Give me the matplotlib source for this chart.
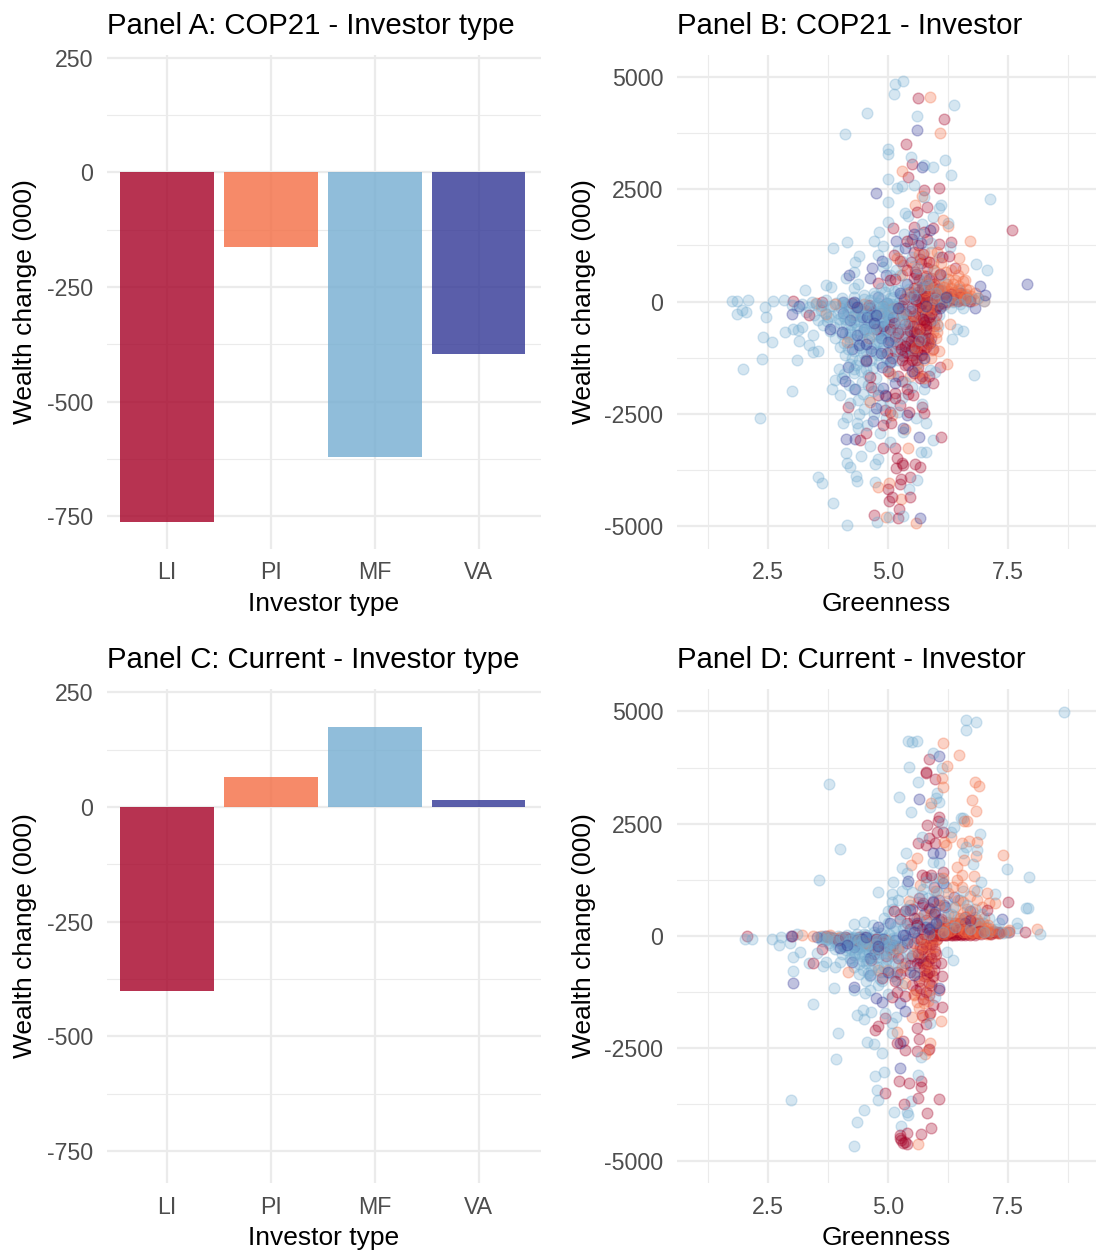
# -*- coding: utf-8 -*-
import matplotlib
matplotlib.use('Agg')
import matplotlib.pyplot as plt

plt.rcParams['font.family'] = ['Liberation Sans', 'DejaVu Sans']
plt.rcParams['axes.unicode_minus'] = False

types = ['LI', 'PI', 'MF', 'VA']
colores = ['#A50026', '#F46D43', '#74ADD1', '#313695']
cop21_bars = [-763, -162, -620, -396]
current_bars = [-401, 65, 175, 14]

# =============================================================================
#               PANEL B, puntos
# =============================================================================
b_mf = [(5.31,4910),(5.14,4840),(5.13,4630),(4.57,4205),(4.10,3735),(5.60,4130),(6.38,4375),(5.0,3390),(4.99,3290),
(5.47,3230),(5.74,3040),(5.93,2990),(6.19,3150),(6.32,2815),(4.99,2720),(5.18,2535),(5.28,2585),(5.53,2600),(5.0,2215),
(5.74,2320),(7.12,2280),(6.10,2155),(6.06,2095),(5.35,1975),(5.42,1910),(5.94,1875),(5.0,1770),(6.24,1740),(5.70,1725),
(4.82,1560),(5.34,1510),(4.71,1340),(4.14,1320),(3.86,1190),(4.89,1235),(6.29,1220),(4.78,1030),(4.40,1020),(4.31,880),
(4.90,775),(4.28,670),(4.13,530),(6.83,830),(7.07,700),(5.17,700),(3.71,370),(3.82,330),(3.26,255),(4.38,390),(4.28,295),
(1.75,10),(1.86,10),(2.08,25),(2.60,10),(2.83,35),(3.41,0),(2.44,-115),(1.95,-190),(2.04,-225),(1.85,-280),(2.46,-335),
(2.86,-670),(2.40,-780),(2.58,-890),(3.03,-600),(3.13,-635),(3.20,-560),(2.37,-1270),(1.97,-1490),(3.11,-1300),(3.15,-875),
(3.43,-745),(3.36,-970),(3.44,-1115),(3.55,-1095),(2.99,-1990),(2.33,-2595),(6.79,-1635),(6.33,-840),(6.57,-665),(6.43,-600),
(3.83,-1940),(4.0,-2070),(3.90,-1750),(4.04,-1710),(4.14,-2560),(4.07,-2710),(4.35,-2710),(4.38,-2820),(4.56,-2750),(4.83,-2935),
(4.63,-3215),(4.13,-3365),(4.43,-3430),(4.15,-3590),(4.21,-3675),(4.73,-3620),(4.78,-3510),(3.55,-3905),(3.62,-4050),(4.33,-3885),
(4.36,-4000),(4.73,-4010),(3.85,-4490),(4.15,-4970),(4.76,-4910),(5.01,-4790),(5.32,-4775),(5.58,-2600),(5.79,-2700),(5.70,-2270),
(5.94,-3085),(5.68,-3360),(5.78,-3340),(5.60,-3975),(5.44,-4180),(5.04,-3120),(5.32,-2895),(5.74,-1955),(5.98,-1560),(5.88,-1525),
(3.0,-80),(3.1,-150),(3.2,-60),(3.3,-230),(3.35,-120),(3.45,-300),(3.5,-50),(3.55,-420),(3.6,-180),(3.65,-520),(3.7,30),(3.75,-350),
(3.8,-650),(3.85,-100),(3.9,-800),(3.95,-250),(4.0,-1000),(4.0,-480),(4.05,80),(4.1,-1200),(4.1,-700),(4.15,-150),(4.2,-1400),
(4.2,-900),(4.25,-350),(4.3,-1600),(4.3,-1100),(4.3,100),(4.35,-600),(4.4,-1300),(4.4,-200),(4.45,-1800),(4.45,-850),(4.5,-450),
(4.5,150),(4.55,-1100),(4.55,-1500),(4.6,-700),(4.6,-100),(4.65,-1300),(4.65,-350),(4.7,-950),(4.7,200),(4.75,-550),(4.75,-1700),
(4.8,-150),(4.8,-1200),(4.85,-750),(4.85,300),(4.9,-400),(4.9,-1000),(4.95,-50),(4.95,-1450),(5.0,-650),(5.0,350),(5.05,-250),
(5.05,-1100),(5.1,-800),(5.1,100),(5.15,-450),(5.2,-1300),(5.2,250),(5.25,-100),(5.3,-600),(5.35,400),(5.4,-300),(5.45,-1000),
(5.5,150),(5.55,-500),(5.6,-1400),(5.65,300),(5.7,-200),(5.75,-750),(5.8,500),(5.85,50),(5.9,-400),(6.0,200),(6.05,-300),(6.1,600),
(6.2,50),(6.3,-150),(6.4,100),(6.5,-50),(6.6,150),(6.7,-20),(6.85,80),(7.0,20),
(4.12,-60),(4.22,-520),(4.32,-240),(4.42,-720),(4.52,-90),(4.62,-480),(4.72,-260),(4.82,-880),(4.92,-170),(5.02,-420),
(4.18,-780),(4.28,-450),(4.38,-950),(4.48,-1150),(4.58,-280),(4.68,-620),(4.78,-40),(4.88,-560),(4.98,-300),(5.08,-60),
(3.98,-1500),(4.08,-1620),(4.18,-1850),(4.28,-1950),(4.38,-2200),(4.48,-2050),(4.58,-1850),(4.68,-2000),(4.2,-2250),(4.5,-2400),
(3.62,-70),(3.68,-260),(3.72,-430),(3.78,-90),(3.82,-310),(3.88,-560),(3.92,-30),(3.97,-380),(4.02,-140),(4.03,-720),(4.07,-310),
(4.08,-930),(4.13,-490),(4.16,-1050),(4.17,-230),(4.21,-650),(4.24,-1260),(4.26,-60),(4.29,-840),(4.31,-330),(4.33,-1420),(4.36,-520),
(4.37,-90),(4.41,-1030),(4.43,-300),(4.44,-1550),(4.47,-670),(4.49,60),(4.51,-1300),(4.53,-380),(4.56,-860),(4.57,-170),(4.59,-1640),
(4.61,-560),(4.63,40),(4.64,-1040),(4.66,-240),(4.67,-770),(4.69,-1470),(4.71,-410),(4.73,130),(4.74,-1120),(4.76,-310),(4.77,-890),
(4.79,-540),(4.81,-1360),(4.83,-200),(4.84,-650),(4.86,60),(4.87,-1100),(4.89,-350),(4.91,-820),(4.93,210),(4.94,-500),(4.96,-1250),
(4.97,-130),(4.99,-900),(5.01,-370),(5.03,80),(5.04,-730),(5.06,-1350),(5.07,-210),(5.09,-550),(5.11,-1000),(5.12,230),(5.14,-320),
(5.16,-850),(5.18,-90),(5.19,-610),(5.22,-1150),(5.24,-400),(5.26,140),(5.28,-760),(5.31,-260),(5.33,-1050),(5.36,40),(5.38,-520),
(5.41,-830),(5.44,280),(5.47,-180),(5.5,-650),(5.52,-1150),(5.57,90),(5.6,-340),(5.63,520),(5.67,-860),(5.72,160),(5.78,-300),(5.83,380),
(5.88,-120),(5.93,700),(5.98,60),(6.03,-550),(6.08,280),(6.14,-80),(6.18,420),(6.25,130),(6.35,-20),(6.45,280),(6.55,-150),(6.65,60),
(5.3,900),(5.5,1000),(5.6,750),(5.75,1100),(5.2,1150),(5.9,1300),(6.05,1000),(5.05,600),(4.95,850),(5.25,600),(5.45,1300),(5.65,1500),
(4.6,-2200),(4.7,-2500),(4.85,-2300),(4.95,-2600),(5.05,-2250),(5.2,-2450),(5.3,-2150),(5.5,-1900),(4.8,-1950),(5.1,-1650),(5.35,-1800),
(4.4,-2500),(4.3,-1500),
(4.06,-40),(4.11,-380),(4.19,-130),(4.23,-720),(4.34,-30),(4.39,-430),(4.46,-220),(4.54,-640),(4.64,-130),(4.69,-330),(4.74,-70),(4.79,-720),
(4.84,-120),(4.88,-440),(4.92,-640),(4.97,-30),(5.02,-220),(5.06,-560),(5.13,-140),(5.17,-660),(5.21,-30),(5.27,-280),(5.32,-430),(5.42,-60)]

b_va = [(5.60,3830),(5.71,3000),(4.74,2410),(5.17,1340),(5.35,1185),(5.53,1495),(4.88,895),(4.66,740),(4.19,590),(4.62,515),
(6.92,350),(7.89,390),(7.02,145),(5.68,1295),(5.88,1590),(6.81,-150),(3.15,-100),(2.99,-265),(4.07,0),(3.78,-600),(4.03,-670),
(4.07,-260),(4.4,-970),(4.54,-1320),(4.16,-1465),(4.87,-1450),(4.1,-1760),(4.31,-1950),(4.9,-1930),(4.94,-2080),(5.77,-1785),
(5.15,-1820),(4.75,-2380),(4.69,-2650),(5.32,-2820),(4.13,-3050),(4.31,-3065),(5.65,-3015),(5.67,-4820),(5.39,-2525),(5.88,-930),
(5.74,-1265),(5.35,-1115),(4.56,-340),(4.28,0),(4.97,-40),(5.53,-670),(6.08,-150),(4.5,-600),(4.62,-150),(4.7,-480),(4.85,-800),
(5.1,-350),(5.25,200),(5.45,-200),(5.7,300),(6.2,100),(6.5,200),(4.2,-400),(4.35,-120),(4.8,100),
(4.35,-750),(4.55,-950),(4.45,-350),(4.65,-1100),(4.75,-300),(4.9,-550),(5.0,-900),(5.2,-150),(5.4,400),(5.55,150),(5.8,-100),(6.0,80),
(6.35,50),(4.85,-1150),(4.25,-1050),(5.05,-1350),(5.5,-1550),(4.95,600)]

b_li = [(5.63,4540),(6.17,4060),(5.38,3520),(5.49,3075),(5.42,2765),(6.07,2525),(5.74,2475),(5.82,2110),(5.6,2000),(5.11,1635),
(5.53,1665),(5.94,1650),(7.59,1600),(5.82,1405),(5.39,1355),(6.07,1275),(6.31,1320),(5.13,1035),(5.53,1110),(6.12,985),(6.26,1020),
(5.67,945),(6.4,740),(5.39,700),(5.56,665),(5.81,740),(5.04,480),(4.78,405),(5.53,515),(6.08,625),(5.94,330),(5.74,255),(6.5,105),
(3.01,20),(3.62,0),(3.35,-300),(4.97,-300),(5.15,-780),(5.74,-450),(5.53,-970),(4.97,-1155),(4.54,-1300),(5.35,-1415),(5.67,-1710),
(5.94,-1820),(5.3,-1760),(4.63,-1690),(4.64,-1895),(4.78,-2080),(5.15,-2045),(5.15,-2155),(5.42,-2060),(5.51,-2080),(4.17,-2340),
(4.94,-2415),(5.44,-2450),(5.71,-2340),(5.74,-2475),(4.89,-2750),(5.06,-2695),(4.53,-2935),(4.42,-3080),(6.1,-3010),(4.89,-3255),
(5.15,-3270),(5.18,-3475),(5.28,-3600),(5.32,-3640),(5.17,-3715),(5.56,-3620),(5.67,-3690),(5.27,-3960),(5.46,-3915),(5.25,-4060),
(4.99,-4170),(5.01,-4430),(5.09,-4345),(5.46,-4345),(4.71,-4750),(5.22,-4620),(5.2,-4810),(6.08,-1465),(5.3,-100),(5.5,-150),
(5.6,-500),(5.7,-200),(5.8,-600),(5.9,-100),(6.0,-300),(5.2,-700),(5.4,-900),(5.6,-1100),(5.35,-500),(5.8,-1000),(5.9,-800),(5.5,-1300),
(5.15,-1100),(5.05,-600),(5.65,80),(5.85,100),(6.05,30),(6.2,-20),(6.4,50),(6.6,30),(6.7,10),(5.75,200),(5.95,250),(5.55,300),(5.45,100),
(6.15,120),(6.3,180),(5.65,-350),(5.75,-850),(5.45,-650),(5.55,-800),(5.25,-950),(5.85,-350),(5.95,-550),(5.7,400),(5.6,150),(5.8,20),
(5.4,-1150),(5.3,-1300),(5.62,-1450),(5.5,-1000),(5.7,-1200),
(5.02,-850),(5.08,-1250),(5.12,-470),(5.18,-950),(5.22,-150),(5.26,-1050),(5.28,-620),(5.32,-1220),(5.33,60),(5.37,-770),(5.38,-280),
(5.41,-1420),(5.43,-480),(5.46,210),(5.47,-880),(5.49,-1180),(5.52,-330),(5.54,-1040),(5.57,60),(5.58,-700),(5.59,-1290),(5.62,-250),
(5.64,470),(5.66,-620),(5.68,-1180),(5.69,120),(5.72,-380),(5.73,-970),(5.76,40),(5.78,-510),(5.79,560),(5.82,-220),(5.83,-800),(5.87,260),
(5.88,-480),(5.91,80),(5.93,-1050),(5.96,400),(5.98,-170),(6.02,160),(6.04,-70),(6.08,60),(6.12,240),(6.18,50),(6.24,110),(6.28,30),(6.35,90),
(6.45,20),(6.52,70),(5.48,880),(5.58,620),(5.68,850),(5.72,1050),(5.85,880),(5.9,520),(5.62,1250),(5.75,1550),(5.5,1400),(5.25,900),(5.15,500),
(4.85,-250),(4.75,-600),(4.6,-80),(4.4,-150),(4.25,-30),(5.0,-1550),(5.2,-1650),(5.55,-1600),(5.4,-1950),(5.7,-1650),(5.85,-1650),(4.95,-2100),
(5.25,-2300),(5.05,-2450),
(5.58,20),(5.63,210),(5.67,-120),(5.71,-30),(5.74,340),(5.77,-280),(5.81,130),(5.84,-60),(5.86,500),(5.89,-280),(5.92,170),(5.94,-30),(5.97,90),
(6.01,-90),(6.03,280),(6.06,10),(6.1,110),(6.13,-30),(5.52,-540),(5.56,-920),(5.6,-730),(5.63,-870),(5.67,-420),(5.7,-780),(5.74,-1050),
(5.77,-690),(5.8,-420),(5.84,-930),(5.42,-310),(5.47,-1080),(5.36,-980)]

b_pi = [(5.88,4545),(6.09,3750),(5.3,2910),(5.7,2355),(5.56,2150),(6.14,1820),(6.24,1680),(6.71,1345),(5.18,960),(5.32,810),
(6.47,975),(6.56,725),(6.01,1110),(5.94,850),(6.4,480),(6.61,480),(6.68,255),(5.81,405),(3.49,-40),(3.71,-265),(4.14,-895),
(6.29,-500),(6.01,-670),(5.92,-1080),(6.22,-1390),(5.04,-1600),(5.6,-1560),(5.42,-3270),(5.01,-4030),(4.8,-4120),(5.26,-4395),
(4.96,-4790),(5.58,-4925),(5.35,-2845),(5.08,-2525),(4.63,-2230),(7.0,20),(6.5,30),(5.3,-300),(5.5,-700),(5.7,-400),(5.9,-200),
(6.1,-100),(6.2,150),(6.3,300),(6.4,80),(6.5,250),(6.6,100),(6.7,60),(6.8,200),(5.6,300),(5.8,150),(6.0,400),(5.4,200),(4.9,-100),
(4.7,-300),(5.1,-150),(5.65,-900),(5.85,-600),(6.0,-800),(6.05,600),(5.7,600),(5.95,700),(6.25,500),(5.55,-1200),(5.75,-1300),
(5.9,50),(6.05,120),(6.15,30),(6.25,80),(6.35,20),(6.45,150),(6.55,60),(6.35,400),(5.8,-150),(5.95,-400),
(5.45,-450),(5.58,-1000),(5.62,-150),(5.72,-750),(5.78,60),(5.83,-420),(5.86,320),(5.92,-90),(5.96,180),(6.02,-500),(6.03,90),(6.07,380),
(6.11,40),(6.14,250),(6.18,-60),(6.22,400),(6.27,110),(6.32,30),(6.37,210),(6.42,90),(6.47,350),(6.52,120),(6.58,40),(6.63,180),(6.72,130),
(6.78,40),(6.88,90),(5.55,800),(5.65,1050),(5.8,900),(5.9,1100),(6.1,850),(6.2,650),(6.3,700),(6.45,600),(6.55,450),(5.3,600),(4.5,-50),
(4.3,-300),(4.6,-800),(3.9,-50),(3.6,-100),(5.6,-1400),(5.75,-1700),(5.45,-1650),(5.9,-1250),(6.05,-1100),
(5.68,30),(5.73,-130),(5.76,240),(5.82,110),(5.87,-30),(5.91,290),(5.97,30),(6.0,230),(6.04,-40),(6.09,170),(6.13,100),(6.17,330),(6.2,20),
(6.24,230),(6.29,60),(6.34,130),(6.39,40),(6.44,240),(6.49,60),(6.54,170),(6.59,90),(6.62,280),(5.55,-330),(5.63,-640),(5.69,-1050),(5.79,-470),
(5.86,-920),(5.94,-680)]

# =============================================================================
#               PANEL D, puntos
# =============================================================================
d_mf = [(8.67,4980),(6.63,4810),(6.84,4770),(6.63,4585),(5.42,4340),(5.49,4310),(5.6,4340),(5.94,4065),(5.44,3770),(6.12,3730),
(3.76,3375),(5.62,3420),(6.01,3175),(5.22,3085),(6.0,3065),(6.07,2980),(5.88,2865),(5.47,2760),(6.51,2635),(6.57,2635),(6.12,2510),
(6.37,2420),(6.3,2320),(5.71,2195),(6.92,2265),(3.99,1930),(5.37,1850),(6.57,1840),(6.63,1990),(6.85,1915),(5.94,1655),(6.05,1615),
(6.76,1600),(5.28,1520),(5.39,1395),(7.47,1490),(7.94,1315),(3.56,1245),(5.11,1195),(6.93,1195),(4.8,985),(5.09,935),(5.08,765),
(7.23,935),(5.5,985),(7.87,625),(7.92,615),(5.39,580),(4.3,260),(4.5,320),(4.69,245),(4.92,395),(7.68,280),(8.17,45),(7.68,170),
(2.02,-65),(2.16,-65),(2.58,-65),(2.76,-15),(2.73,-200),(2.95,-165),(3.1,35),(3.17,-350),(3.03,-460),(3.03,-780),(3.51,-385),(3.35,-610),
(3.65,-660),(3.71,-585),(3.88,-1165),(3.9,-680),(4.0,-570),(3.44,-1505),(4.29,-1200),(4.52,-1275),(4.63,-1200),(4.36,-1760),(4.47,-1650),
(4.49,-1850),(4.64,-1700),(4.94,-1720),(5.17,-1795),(5.08,-1945),(5.08,-2165),(3.95,-2150),(4.56,-2350),(4.71,-2410),(4.88,-2610),
(3.92,-2740),(5.69,-2700),(4.92,-3020),(4.72,-3115),(5.63,-3095),(4.77,-3430),(4.78,-3650),(2.98,-3645),(5.47,-3665),(5.39,-3910),
(5.42,-3985),(4.49,-3865),(5.13,-3910),(4.35,-4150),(5.27,-4220),(4.3,-4675),(6.22,-350),(6.35,-535),(5.98,-1350),(5.88,-1945),
(3.6,-50),(3.7,-100),(3.75,-20),(3.8,-200),(3.85,-60),(3.9,-300),(3.95,-10),(4.0,-150),(4.05,-400),(4.05,-40),(4.1,-100),(4.15,-250),
(4.15,20),(4.2,-500),(4.2,-80),(4.25,-180),(4.3,-700),(4.3,-30),(4.35,-300),(4.35,40),(4.4,-100),(4.4,-850),(4.45,-450),(4.5,-200),
(4.5,50),(4.55,-1000),(4.55,-600),(4.6,-50),(4.6,-350),(4.65,-750),(4.7,100),(4.7,-150),(4.75,-500),(4.8,-1100),(4.8,-20),(4.85,-300),
(4.85,-800),(4.9,150),(4.9,-100),(4.95,-600),(5.0,-1300),(5.0,-200),(5.0,300),(5.05,-450),(5.1,-50),(5.1,-900),(5.15,200),(5.15,-300),
(5.2,-650),(5.25,500),(5.3,-100),(5.3,-1100),(5.35,250),(5.4,-400),(5.45,700),(5.5,100),(5.55,-800),(5.6,400),(5.65,-100),(5.7,900),
(5.75,200),(5.8,1200),(5.85,50),(5.9,600),(5.95,1000),(6.0,300),(6.05,1300),(6.1,700),(6.15,100),(6.2,1100),(6.3,500),(6.4,200),(6.5,800),
(6.6,400),(6.7,150),(6.8,600),(6.9,250),(7.0,80),(7.1,400),(7.25,150),(7.4,60),(7.5,100),
(4.25,-40),(4.45,-120),(4.55,-230),(4.65,-60),(4.75,-180),(4.85,-70),(4.95,-320),(5.05,-130),(4.4,-380),(4.6,-500),(4.8,-400),(5.2,-220),
(3.98,-90),(4.08,-220),(4.18,-60),(4.28,-420),(4.38,-200),(4.48,-560),(4.58,-820),(4.68,-290),(4.78,-680),(4.88,-1000),
(3.58,-30),(3.63,-120),(3.66,-10),(3.72,-60),(3.77,-160),(3.82,-30),(3.87,-120),(3.92,-70),(3.96,-240),(4.01,-40),(4.03,-120),(4.07,-220),
(4.09,-20),(4.12,-320),(4.14,-90),(4.17,-160),(4.19,-30),(4.22,-280),(4.23,-530),(4.27,-110),(4.29,-40),(4.32,-370),(4.33,-190),(4.37,-70),
(4.39,-620),(4.42,-250),(4.43,-30),(4.46,-150),(4.47,-760),(4.49,-400),(4.51,-90),(4.53,-280),(4.54,20),(4.57,-540),(4.59,-170),(4.62,-60),
(4.63,-900),(4.66,-340),(4.68,-120),(4.71,-650),(4.72,30),(4.74,-240),(4.77,-90),(4.78,-460),(4.82,-170),(4.83,-950),(4.86,60),(4.88,-380),
(4.91,-700),(4.93,-40),(4.96,-230),(4.98,-520),(5.01,50),(5.03,-830),(5.06,-150),(5.08,-380),(5.12,110),(5.14,-600),(5.17,-40),(5.19,-980),
(5.22,330),(5.24,-230),(5.27,-470),(5.32,150),(5.36,-750),(5.38,600),(5.42,-90),(5.46,280),(5.52,-400),(5.58,150),(5.62,750),(5.67,300),
(5.72,1050),(5.78,550),(5.83,850),(5.87,280),(5.92,1300),(5.97,500),(6.03,950),(6.07,250),(6.13,1250),(6.18,420),(6.23,780),(6.28,150),
(6.35,650),(6.45,400),(6.55,1000),(6.65,700),(6.75,350),(6.85,1000),(6.95,500),(7.05,200),(7.15,120),(7.3,300),(5.2,800),(5.3,1000),
(5.4,1150),(5.1,600),(5.0,550)]

d_va = [(6.06,4015),(5.65,3050),(5.42,1225),(6.14,1170),(5.93,1840),(6.08,1840),(6.37,875),(5.46,580),(5.98,540),(6.18,650),(7.38,370),
(4.79,195),(5.04,280),(5.35,20),(5.94,765),(6.71,555),(3.03,-1040),(4.28,-1130),(4.63,-870),(4.75,-1390),(4.87,-1475),(5.25,-1500),
(5.35,-1670),(4.0,-275),(4.28,-240),(3.51,-15),(2.97,0),(5.25,-2390),(5.24,-2945),(5.53,-870),(5.67,-500),(4.25,-570),(5.32,20),
(5.46,-645),(4.63,-500),(6.05,-1165),(4.1,-130),(4.45,-60),(4.8,-220),(5.15,-100),(5.6,300),(5.85,150),(6.2,200),
(4.35,-90),(4.55,-30),(4.7,-400),(4.9,-60),(4.15,-200),(5.05,-250),(5.4,-150),(5.55,100),(5.7,700),(5.8,200),(6.0,300),(6.3,150),(6.6,300),(5.0,-800)]

d_li = [(5.86,3950),(5.8,3650),(5.79,3635),(5.98,3490),(6.07,2640),(6.03,2570),(5.82,2480),(6.02,2320),(6.14,2310),(5.85,2190),(5.97,2080),
(5.62,2080),(5.8,2025),(6.15,1430),(5.89,1360),(5.8,1320),(5.93,785),(5.72,725),(6.17,690),(7.49,765),(5.13,555),(5.24,380),(7.06,580),
(7.85,95),(7.51,95),(7.28,95),(3.0,0),(2.07,0),(6.61,430),(6.05,355),(6.4,280),(5.88,170),(6.22,60),(6.65,45),(7.1,60),(6.89,95),(6.82,280),
(3.62,-295),(3.44,-610),(3.8,-15),(4.64,-535),(4.87,-940),(5.19,-795),(6.13,-885),(6.1,-610),(5.67,-535),(5.85,-795),(5.66,-1165),(5.5,-1090),
(6.06,-1200),(5.35,-1330),(5.85,-1315),(5.08,-1350),(5.18,-1240),(5.94,-1535),(6.13,-1590),(5.87,-1720),(5.71,-1760),(4.94,-1820),(5.78,-1960),
(5.6,-2055),(4.78,-2005),(4.72,-2090),(5.31,-2335),(5.18,-2390),(5.65,-2300),(5.35,-2545),(5.6,-2550),(5.85,-2515),(5.22,-3220),(5.44,-3270),
(5.68,-3230),(5.69,-3355),(4.94,-3490),(5.63,-3600),(6.07,-3635),(5.34,-3745),(5.81,-3945),(5.9,-4265),(5.69,-4410),(5.39,-4390),(5.25,-4490),
(5.27,-4540),(5.32,-4615),(5.39,-4635),(5.25,-4430),(5.35,-4580),(5.4,-100),(5.6,-50),(5.7,-300),(5.8,-600),(5.9,-100),(6.0,-400),(5.75,-900),
(5.95,-750),(5.2,-500),(5.05,-300),(4.9,-150),(4.75,-60),(4.5,-30),(4.2,-60),(3.95,-80),(5.3,-250),(5.5,-450),(5.65,-1000),(5.85,-1050),(6.0,20),
(6.1,60),(6.2,30),(6.3,40),(6.45,80),(6.55,50),(6.7,100),(6.8,70),(7.0,120),(7.2,90),(5.6,250),(5.8,350),(5.5,600),(5.7,150),(5.9,200),(5.4,300),
(6.05,45),(6.15,25),(6.25,50),(6.35,30),(6.5,40),(6.6,70),(5.95,30),(5.8,-180),(5.65,-700),(5.9,-480),
(5.55,-150),(5.62,-400),(5.68,-70),(5.72,-600),(5.78,-250),(5.82,-850),(5.88,-400),(5.92,-180),(5.98,-600),(6.02,-60),(5.58,-1200),(5.72,-1400),
(5.8,-1250),(5.9,-1100),(5.45,-800),(5.35,-600),(5.25,-850),(5.15,-1000),(5.1,-200),(4.95,-450),(4.8,-300),(4.6,-200),(4.4,-20),(4.1,-30),
(3.85,-50),(3.7,-10),(5.75,50),(5.85,80),(5.92,20),(5.98,60),(6.03,110),(6.08,20),(6.12,130),(6.18,60),(6.27,120),(6.33,80),(6.38,180),(6.43,40),
(6.48,150),(6.58,110),(6.63,200),(6.72,40),(6.77,140),(6.85,60),(6.92,110),(7.05,80),(7.15,50),(7.3,60),(5.75,500),(5.85,620),(5.95,480),(6.05,800),
(5.65,850),(5.55,400),(5.95,1100),(5.7,1350),(6.1,380),(6.3,240),(6.5,300),(6.7,350),(6.9,300),(5.45,150),(5.35,550),
(6.02,30),(6.07,70),(6.11,15),(6.16,80),(6.21,20),(6.26,70),(6.31,20),(6.36,60),(6.41,15),(6.46,50),(6.51,20),(6.56,60),(6.61,30),(6.66,80),(6.71,25),
(6.76,60),(6.81,30),(6.86,90),(6.94,40),(7.02,60),(5.6,-600),(5.66,-250),(5.74,-750),(5.83,-550),(5.87,-180),(5.93,-900),(5.97,-330)]

d_pi = [(6.15,4300),(6.47,4020),(6.22,3785),(6.12,3525),(6.14,3315),(5.9,2955),(6.82,3435),(6.9,3345),(6.74,3030),(6.84,2780),(6.58,2560),(6.65,2560),
(6.3,2210),(6.17,2100),(6.2,2025),(6.54,2080),(6.68,2120),(6.85,2100),(7.4,1810),(6.83,1790),(5.6,1730),(5.47,1575),(6.58,1690),(6.43,1545),
(6.78,1335),(6.54,1360),(6.43,1245),(5.67,1135),(6.78,1025),(7.06,950),(7.23,725),(5.43,785),(6.54,1100),(7.1,725),(8.11,150),(7.51,135),(3.2,20),
(3.8,20),(3.44,0),(4.0,-30),(4.1,-60),(4.4,-80),(4.8,-150),(5.1,-400),(5.3,-700),(5.5,-200),(5.6,-900),(5.7,-100),(5.75,-500),(5.85,-300),(5.95,-50),
(6.0,100),(6.1,200),(6.2,60),(6.3,300),(6.4,120),(6.5,400),(6.6,180),(6.65,600),(6.7,50),(6.8,250),(6.85,800),(6.9,100),(7.0,400),(7.05,50),(7.15,150),
(7.25,60),(7.35,100),(6.05,700),(6.25,500),(6.45,800),(5.9,500),(5.65,400),(5.55,-1300),(5.75,-1500),(5.85,-1750),(4.8,-755),(4.17,-795),(5.6,-1460),
(5.53,-1315),(5.74,-1015),(5.49,-1795),(6.1,-1890),(5.19,-2130),(5.87,-2390),(5.84,-2540),(5.77,-2635),(5.63,-4640),(6.0,30),(6.15,40),(6.35,70),
(6.45,200),(6.55,90),(6.75,120),(6.95,180),(7.1,80),(6.6,300),(6.85,350),
(5.75,-200),(5.8,-900),(5.85,-600),(5.88,-1200),(5.92,-1000),(5.68,-1300),(5.6,-350),(5.65,-1600),(5.72,-1800),(5.95,-250),(6.0,-100),(5.98,40),
(6.03,180),(6.08,60),(6.12,320),(6.17,110),(6.22,200),(6.27,40),(6.32,130),(6.37,440),(6.42,70),(6.47,250),(6.52,110),(6.57,520),(6.62,80),(6.67,340),
(6.72,150),(6.77,70),(6.82,420),(6.87,190),(6.92,60),(6.97,280),(7.02,110),(7.08,250),(7.12,40),(7.2,110),(7.3,70),(7.45,80),(6.4,650),(6.55,750),
(6.7,900),(6.25,950),(6.15,1300),(6.0,1000),(6.35,1100),(6.75,550),(6.95,650),(3.95,-40),(3.75,-20),(3.6,0),(4.25,-100),(4.55,-150),(4.7,-300),
(4.95,-100),(5.2,-300),(5.45,-500),(5.35,-1050),(5.0,-750),
(6.05,140),(6.1,50),(6.14,240),(6.19,90),(6.24,310),(6.29,120),(6.34,60),(6.39,290),(6.44,160),(6.49,70),(6.53,360),(6.58,140),(6.63,60),(6.68,250),
(6.74,90),(6.79,310),(6.84,130),(6.89,70),(6.94,220),(6.99,100),(7.04,170),(7.1,60),(5.72,-380),(5.78,-700),(5.82,-100),(5.9,-780),(5.96,-450),(5.84,-1450)]


def rejilla(ax, xmajor, xminor, ymajor, yminor):
    ax.set_xticks(xmajor)
    ax.set_xticks(xminor, minor=True)
    ax.set_yticks(ymajor)
    ax.set_yticks(yminor, minor=True)
    ax.grid(True, which='major', color='#EBEBEB', linewidth=1.6, zorder=0)
    ax.grid(True, which='minor', color='#EBEBEB', linewidth=0.8, zorder=0)
    ax.set_axisbelow(True)
    for s in ax.spines.values():
        s.set_visible(False)
    ax.tick_params(which='both', length=0)
    ax.tick_params(axis='both', labelsize=16.7, labelcolor='#4D4D4D')
    ax.tick_params(axis='x', pad=9)
    ax.tick_params(axis='y', pad=10)


def ejes(left, top, width, height):
    return fig.add_axes([left/W, 1-(top+height)/H, width/W, height/H])


def etiquetas(ax, titulo, xlab, ylab, xw):
    ax.set_title(titulo, loc='left', fontsize=21.2, pad=15)
    ax.set_xlabel(xlab, fontsize=19)
    ax.set_ylabel(ylab, fontsize=19)
    ax.xaxis.set_label_coords(0.5, -0.088)
    ax.yaxis.set_label_coords(xw, 0.5)


def barras(ax, valores, titulo):
    ax.bar(range(4), valores, width=0.9, color=colores, alpha=0.8, linewidth=0, zorder=3)
    rejilla(ax, range(4), [], [-750, -500, -250, 0, 250], [-625, -375, -125, 125])
    ax.set_xticklabels(types)
    ax.set_yticklabels(['-750', '-500', '-250', '0', '250'])
    ax.set_xlim(-0.58, 3.6)
    ax.set_ylim(-820, 257)
    etiquetas(ax, titulo, 'Investor type', 'Wealth change (000)', -70/434)


def nube(ax, series, titulo):
    # capas intercaladas para que los colores queden mezclados en el centro
    for k in range(3):
        for pts, col in series:
            xs, ys = zip(*pts[k::3])
            ax.scatter(xs, ys, s=60, facecolor=col, edgecolor=col, linewidth=1.0, alpha=0.3, zorder=3)
    rejilla(ax, [2.5, 5, 7.5], [1.25, 3.75, 6.25, 8.75], [-5000, -2500, 0, 2500, 5000], [-3750, -1250, 1250, 3750])
    ax.set_xticklabels(['2.5', '5.0', '7.5'])
    ax.set_yticklabels(['-5000', '-2500', '0', '2500', '5000'])
    ax.set_xlim(0.604, 9.33)
    ax.set_ylim(-5500, 5500)
    etiquetas(ax, titulo, 'Greenness', 'Wealth change (000)', -81/419)


W, H = 1096, 1253
fig = plt.figure(figsize=(W/100, H/100), dpi=100)

ax_a = ejes(107, 54.6, 434, 494)
ax_b = ejes(677, 54.6, 419, 494)
ax_c = ejes(107, 689, 434, 494)
ax_d = ejes(677, 689, 419, 494)

barras(ax_a, cop21_bars, 'Panel A: COP21 - Investor type')
barras(ax_c, current_bars, 'Panel C: Current - Investor type')
nube(ax_b, [(b_li, colores[0]), (b_pi, colores[1]), (b_mf, colores[2]), (b_va, colores[3])], 'Panel B: COP21 - Investor')
nube(ax_d, [(d_li, colores[0]), (d_pi, colores[1]), (d_mf, colores[2]), (d_va, colores[3])], 'Panel D: Current - Investor')

fig.savefig('out.png', dpi=100)
